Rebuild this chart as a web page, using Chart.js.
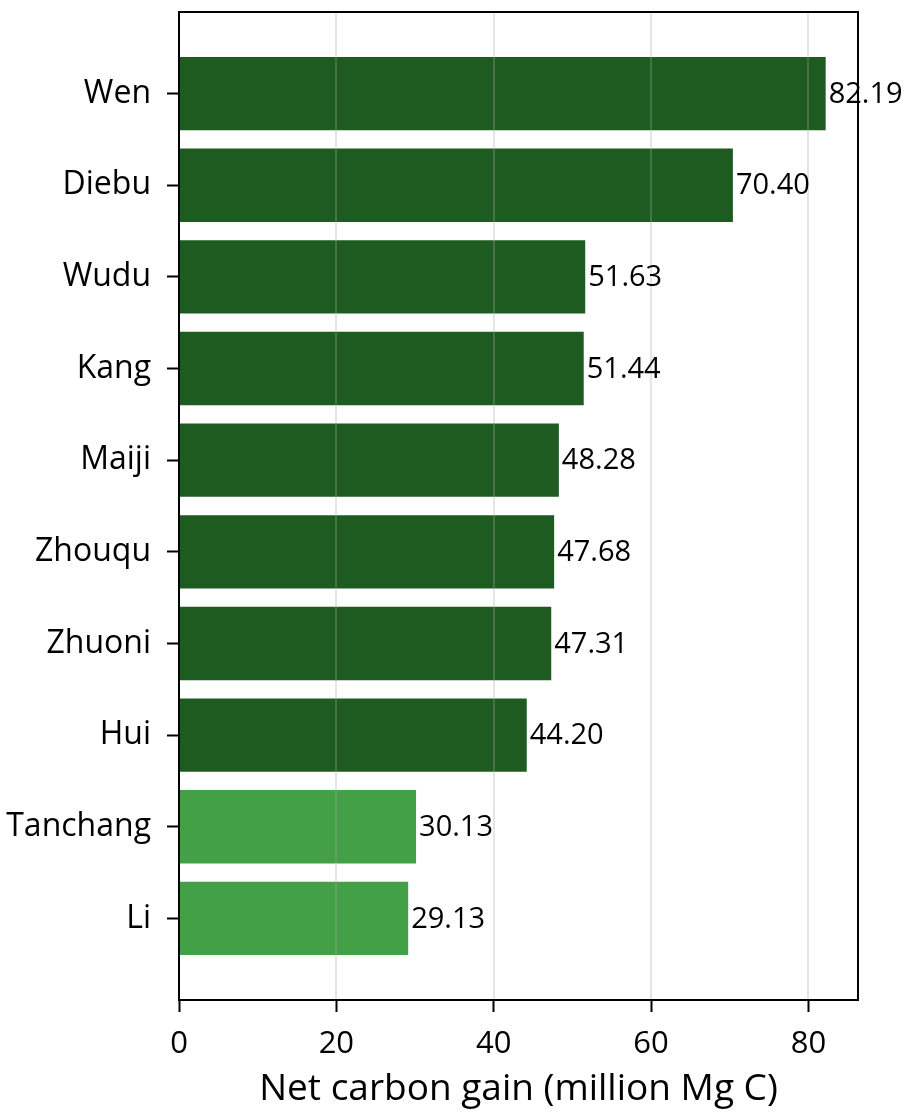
<!DOCTYPE html>
<html>
<head>
<meta charset="utf-8">
<script src="https://cdn.jsdelivr.net/npm/chart.js@4.4.1/dist/chart.umd.min.js"></script>
<style>
  html, body { margin: 0; padding: 0; background: #fff; }
  canvas { display: block; }
</style>
</head>
<body>
<canvas id="dataChart" width="911" height="1120"></canvas>
<script>
// chart data
const counties = ['Wen', 'Diebu', 'Wudu', 'Kang', 'Maiji', 'Zhouqu', 'Zhuoni', 'Hui', 'Tanchang', 'Li'];
const carbonGain = [82.19, 70.40, 51.63, 51.44, 48.28, 47.68, 47.31, 44.20, 30.13, 29.13];
const xTicks = [0, 20, 40, 60, 80];
const xTitle = 'Net carbon gain (million Mg C)';

const darkGreen = '#1e5b20';
const lightGreen = '#43a047';
const font = '"Open Sans", "Noto Sans", sans-serif';

// grid lines sit on top of the bars, then value labels, then the frame
const overlay = {
  id: 'overlay',
  afterDatasetsDraw(chart) {
    const { ctx, chartArea: a, scales } = chart;
    ctx.save();
    ctx.strokeStyle = 'rgba(170,170,170,0.3)';
    ctx.lineWidth = 2;
    xTicks.forEach(t => {
      const x = Math.round(scales.x.getPixelForValue(t));
      ctx.beginPath();
      ctx.moveTo(x, a.top);
      ctx.lineTo(x, a.bottom);
      ctx.stroke();
    });

    ctx.fillStyle = '#000';
    ctx.font = '29px ' + font;
    ctx.textAlign = 'left';
    ctx.textBaseline = 'middle';
    chart.getDatasetMeta(0).data.forEach((bar, i) => {
      ctx.fillText(carbonGain[i].toFixed(2), bar.x + 3, bar.y + 1);
    });

    ctx.strokeStyle = '#000';
    ctx.lineWidth = 2;
    ctx.strokeRect(a.left, a.top, a.right - a.left, a.bottom - a.top);
    ctx.restore();
  }
};

const ctx = document.getElementById('dataChart').getContext('2d');
const chart = new Chart(ctx, {
  type: 'bar',
  data: {
    datasets: [{
      data: carbonGain.map((v, i) => ({ x: v, y: i })),
      backgroundColor: carbonGain.map(v => v >= 40 ? darkGreen : lightGreen),
      borderWidth: 0,
      barPercentage: 0.8,
      categoryPercentage: 1.0
    }]
  },
  options: {
    indexAxis: 'y',
    responsive: false,
    devicePixelRatio: 1,
    animation: false,
    layout: { padding: { top: 12, right: 53, left: 0, bottom: 0 } },
    plugins: {
      legend: { display: false },
      tooltip: { enabled: false }
    },
    scales: {
      x: {
        type: 'linear',
        min: 0,
        max: 86.3,
        afterBuildTicks: axis => { axis.ticks = xTicks.map(v => ({ value: v })); },
        afterFit: axis => { axis.height = 120; axis.paddingLeft = 0; axis.paddingRight = 0; },
        border: { display: false },
        grid: { offset: false, drawOnChartArea: false, drawTicks: true, tickLength: 12, tickWidth: 2, tickColor: '#000' },
        ticks: { color: '#000', font: { size: 31, family: font }, padding: 14, maxRotation: 0 },
        title: {
          display: true,
          text: xTitle,
          color: '#000',
          font: { size: 37, family: font },
          padding: { top: 0, bottom: 8 }
        }
      },
      y: {
        type: 'linear',
        offset: false,
        min: -0.89,
        max: 9.89,
        reverse: true,
        afterBuildTicks: axis => { axis.ticks = counties.map((c, i) => ({ value: i })); },
        afterFit: axis => { axis.width = 179; axis.paddingTop = 0; axis.paddingBottom = 0; },
        border: { display: false },
        grid: { offset: false, drawOnChartArea: false, drawTicks: true, tickLength: 12, tickWidth: 2, tickColor: '#000' },
        ticks: {
          color: '#000',
          font: { size: 32, family: font },
          padding: 16,
          callback: v => counties[v]
        }
      }
    }
  },
  plugins: [overlay]
});
</script>
</body>
</html>
